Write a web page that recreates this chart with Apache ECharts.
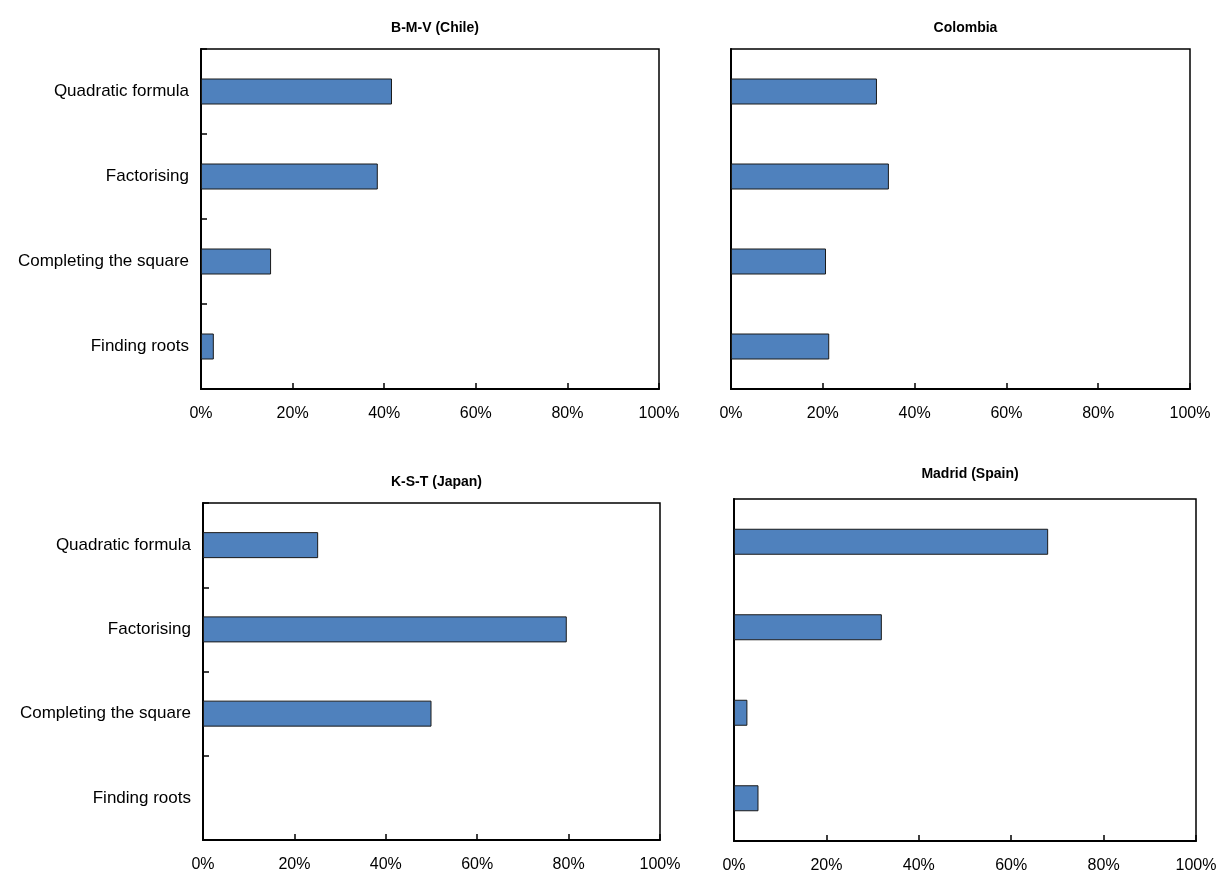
<!DOCTYPE html>
<html>
<head>
<meta charset="utf-8">
<script src="https://cdn.jsdelivr.net/npm/echarts@6/dist/echarts.min.js"></script>
<style>
  html, body { margin: 0; padding: 0; background: #fff; }
  #chart { width: 1217px; height: 874px; }
</style>
</head>
<body>
<div id="chart"></div>
<script>
const categories = ['Quadratic formula', 'Factorising', 'Completing the square', 'Finding roots'];
const panelTitles = ['B-M-V (Chile)', 'Colombia', 'K-S-T (Japan)', 'Madrid (Spain)'];
const chile = [41.7, 38.6, 15.3, 2.8];
const colombia = [31.8, 34.4, 20.7, 21.4];
const japan = [25.2, 79.6, 50.0, null];
const spain = [68.0, 32.0, 2.9, 5.3];
const xTicks = [0, 20, 40, 60, 80, 100];

const panelData = [chile, colombia, japan, spain];

// plot boxes in pixels
const boxes = [
  { left: 201, top: 49, width: 458, height: 340 },
  { left: 731, top: 49, width: 459, height: 340 },
  { left: 203, top: 503, width: 457, height: 337 },
  { left: 734, top: 499, width: 462, height: 342 }
];
const titleTops = [16, 16, 470, 462];

const font = '"Liberation Sans", Arial, sans-serif';

const myChart = echarts.init(document.getElementById('chart'));

const option = {
  backgroundColor: '#fff',
  animation: false,
  title: boxes.map((b, i) => ({
    text: panelTitles[i],
    left: b.left + b.width / 2,
    top: titleTops[i],
    textAlign: 'center',
    textStyle: { fontFamily: font, fontSize: 14, fontWeight: 'bold', color: '#000' }
  })),
  grid: boxes.map(b => ({
    left: b.left,
    top: b.top,
    width: b.width,
    height: b.height,
    show: true,
    borderColor: '#000',
    borderWidth: 1.5,
    containLabel: false,
    outerBoundsMode: 'none'
  })),
  xAxis: boxes.map((b, i) => ({
    type: 'value',
    gridIndex: i,
    min: xTicks[0],
    max: xTicks[xTicks.length - 1],
    interval: 20,
    splitLine: { show: false },
    axisLine: { show: true, lineStyle: { color: '#000', width: 2 } },
    axisTick: { show: true, inside: true, length: 6, lineStyle: { color: '#000', width: 1.5 } },
    axisLabel: {
      formatter: '{value}%',
      fontFamily: font,
      fontSize: 16,
      color: '#000',
      margin: 17
    }
  })),
  yAxis: boxes.map((b, i) => ({
    type: 'category',
    gridIndex: i,
    inverse: true,
    data: categories,
    axisLine: { show: true, lineStyle: { color: '#000', width: 2 } },
    axisTick: { show: i % 2 === 0, inside: true, length: 6, lineStyle: { color: '#000', width: 1.5 } },
    axisLabel: {
      show: i % 2 === 0,
      fontFamily: font,
      fontSize: 17,
      color: '#000',
      margin: 12
    }
  })),
  series: panelData.map((d, i) => ({
    type: 'bar',
    xAxisIndex: i,
    yAxisIndex: i,
    data: d,
    barWidth: 26,
    itemStyle: { color: '#4F81BD', borderColor: '#1a1a1a', borderWidth: 1 }
  }))
};

myChart.setOption(option);
</script>
</body>
</html>
